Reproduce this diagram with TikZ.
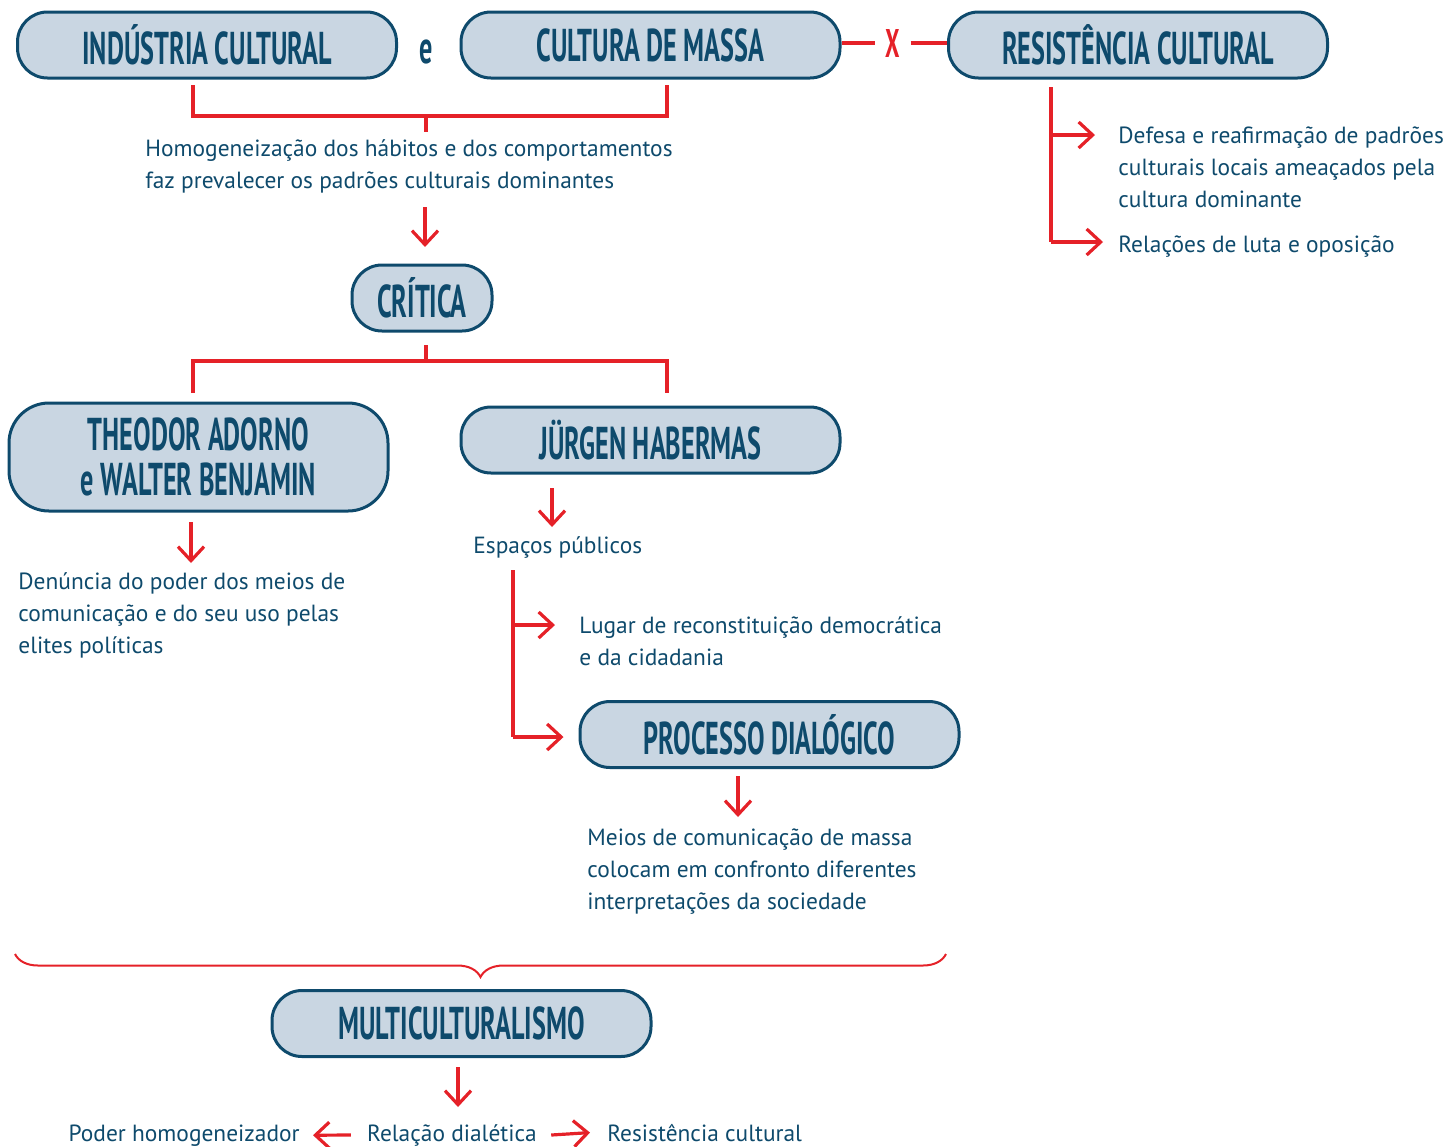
\documentclass[tikz,border=0pt]{standalone}
\usepackage{fontspec}
\setmainfont{PT Sans}
\newfontfamily\titlefont{PT Sans}[FakeStretch=0.57]
\usetikzlibrary{arrows.meta,decorations.pathreplacing}
\definecolor{boxfill}{HTML}{C9D6E2}
\definecolor{navy}{HTML}{0E4A6C}
\definecolor{redc}{HTML}{E52128}
\tikzset{
  box/.style={draw=navy, line width=1.5pt, fill=boxfill, rounded corners=15pt,
    text=navy, font=\titlefont\bfseries\fontsize{23}{22.5}\selectfont,
    minimum width=189.5pt, minimum height=33pt, inner sep=0pt, align=center},
  txt/.style={text=navy, font=\fontsize{11.7}{16}\selectfont, align=left, inner sep=0pt, anchor=west},
  redline/.style={draw=redc, line width=1.6pt},
  arr/.style={redline, -{Straight Barb[length=7pt,width=13pt]}},
}
\begin{document}
\begin{tikzpicture}[x=0.5pt,y=-0.5pt]
\useasboundingbox (0,0) rectangle (1449,1146);
% top row
\node[box] (ic) at (207,45) {INDÚSTRIA CULTURAL};
\node[box] (cm) at (650.5,45) {CULTURA DE MASSA};
\node[box] (rc) at (1138,45) {RESISTÊNCIA CULTURAL};
\node[text=navy, font=\titlefont\bfseries\fontsize{23}{22}\selectfont, inner sep=0pt] (e1) at (426,52) {e};
\node[text=redc, font=\titlefont\bfseries\fontsize{20}{20}\selectfont, inner sep=5pt] (xx) at (893,43) {X};
\draw[redline] (cm.east |- xx.west) -- (xx.west);
\draw[redline] (xx.east) -- (rc.west |- xx.east);
% bracket 1
\coordinate (b1l) at (193,85);
\coordinate (b1r) at (667,85);
\coordinate (b1m) at (426,116);
\draw[redline] (b1l) -- (193,116) -- (667,116) -- (b1r);
\draw[redline] (b1m) -- (426,132);
\node[txt] (hom) at (145,166) {Homogeneização dos hábitos e dos comportamentos\\faz prevalecer os padrões culturais dominantes};
\node[box, minimum width=70pt] (crit) at (422,298) {CRÍTICA};
\coordinate (a1) at (425,207);
\draw[arr] (a1) -- (425,247);
% bracket 2
\coordinate (b2m) at (426,345);
\draw[redline] (b2m) -- (426,361);
\draw[redline] (193,393) -- (193,361) -- (667,361) -- (667,393);
\node[box, minimum height=54pt, rounded corners=20pt] (ta) at (198.5,457) {THEODOR ADORNO\\e WALTER BENJAMIN};
\node[box] (jh) at (650.5,440) {JÜRGEN HABERMAS};
% adorno branch
\coordinate (a2) at (191,522);
\draw[arr] (a2) -- (191,563);
\node[txt] (den) at (18,615) {Denúncia do poder dos meios de\\comunicação e do seu uso pelas\\elites políticas};
% habermas branch
\coordinate (a3) at (552,488);
\draw[arr] (a3) -- (552,527);
\node[txt] (esp) at (473,547) {Espaços públicos};
\node[txt] (lug) at (579,641) {Lugar de reconstituição democrática\\e da cidadania};
\node[box] (pd) at (769.5,734.5) {PROCESSO DIALÓGICO};
\coordinate (t1) at (513,570);
\draw[redline] (t1) -- (513,737);
\draw[arr] (513,625) -- ([xshift=-12pt]lug.west |- 0,625);
\draw[arr] (513,737) -- ([xshift=-7.5pt]pd.west |- 0,737);
\coordinate (a4) at (738,776);
\draw[arr] (a4) -- (738,817);
\node[txt] (mei) at (587,872) {Meios de comunicação de massa\\colocam em confronto diferentes\\interpretações da sociedade};
% resistencia branch
\coordinate (t2) at (1051,87);
\draw[redline] (t2) -- (1051,242);
\node[txt] (def) at (1118,167) {Defesa e reafirmação de padrões\\culturais locais ameaçados pela\\cultura dominante};
\node[txt] (rel2) at (1118,247) {Relações de luta e oposição};
\draw[arr] (1051,135) -- (1095,135);
\draw[arr] (1051,242) -- (1103,242);
% brace
\coordinate (brl) at (15,954);
\coordinate (brr) at (946,954);
\draw[draw=redc, line width=1pt, decorate, decoration={brace, mirror, amplitude=11.5pt}] (brl) -- (brr);
\node[box] (mc) at (461.5,1023.5) {MULTICULTURALISMO};
\coordinate (a5) at (458,1067);
\draw[arr] (a5) -- (458,1107);
% bottom row
\node[txt, anchor=base] (rd) at (452,1141) {Relação dialética};
\node[txt, anchor=base east] (ph) at (300,1141) {Poder homogeneizador};
\node[txt, anchor=base west] (rs) at (607,1141) {Resistência cultural};
\draw[arr] ([xshift=-8pt]rd.west) -- ([xshift=6.5pt]ph.east);
\draw[arr] ([xshift=7pt]rd.east) -- ([xshift=-8.5pt]rs.west);
\end{tikzpicture}
\end{document}
